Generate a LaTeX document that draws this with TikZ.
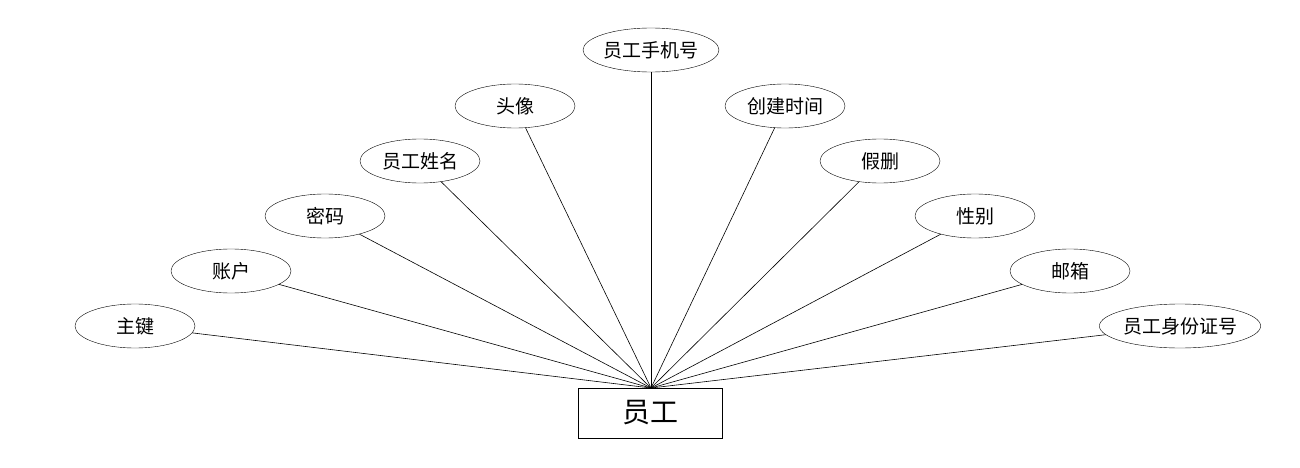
\documentclass[tikz,border=0pt]{standalone}
\usepackage{fontspec}
\setmainfont{Noto Sans CJK SC}
\usetikzlibrary{shapes.geometric}
\begin{document}
\begin{tikzpicture}[x=1pt,y=-1pt,
  attr/.style={draw,ellipse,minimum width=120pt,minimum height=44pt,inner sep=0pt,font=\fontsize{19}{22}\selectfont},
  ent/.style={draw,rectangle,minimum width=144pt,minimum height=50pt,inner sep=0pt,font=\fontsize{28}{32}\selectfont},
  link/.style={draw,line width=0.6pt}]
\useasboundingbox (0,0) rectangle (1300,468);
\node[ent] (e) at (650,413) {员工};
\coordinate (c) at (651,388);
\node[attr] (a1) at (135,326) {主键};
\node[attr] (a2) at (231,271) {账户};
\node[attr] (a3) at (325,216) {密码};
\node[attr] (a4) at (420,161) {员工姓名};
\node[attr] (a5) at (515,106) {头像};
\node[attr,minimum width=136pt] (a6) at (651,50) {员工手机号};
\node[attr] (a7) at (785,106) {创建时间};
\node[attr] (a8) at (880,161) {假删};
\node[attr] (a9) at (975,216) {性别};
\node[attr] (a10) at (1070,271) {邮箱};
\node[attr,minimum width=150pt] (a11) at (1180,326) {员工身份证号};
\foreach \i in {1,...,11}{\draw[link] (c) -- (a\i);}
\end{tikzpicture}
\end{document}
